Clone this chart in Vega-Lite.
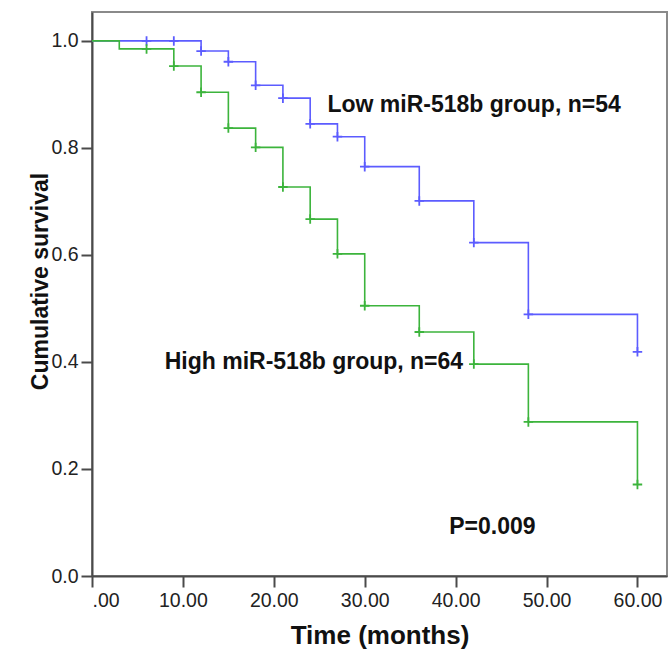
{
  "$schema": "https://vega.github.io/schema/vega-lite/v6.json",
  "autosize": "none",
  "padding": {"left": 92, "top": 12, "right": 2, "bottom": 74},
  "width": 575,
  "height": 564,
  "background": "white",
  "config": {
    "view": {"stroke": "#8a8a8a", "strokeWidth": 2},
    "font": "Liberation Sans",
    "axis": {
      "grid": false,
      "domainColor": "#4a4a4a",
      "domainWidth": 2,
      "tickColor": "#4a4a4a",
      "tickWidth": 2,
      "tickSize": 11,
      "labelFont": "Liberation Sans",
      "labelFontSize": 19.5,
      "labelColor": "#222222",
      "titleFont": "Liberation Sans",
      "titleFontSize": 23,
      "titleFontWeight": "bold",
      "titleColor": "#111111"
    }
  },
  "datasets": {
    "steps": [
      {"group": "Low", "t": 0, "s": 1.0},
      {"group": "Low", "t": 12, "s": 0.981},
      {"group": "Low", "t": 15, "s": 0.961},
      {"group": "Low", "t": 18, "s": 0.917},
      {"group": "Low", "t": 21, "s": 0.893},
      {"group": "Low", "t": 24, "s": 0.845},
      {"group": "Low", "t": 27, "s": 0.821},
      {"group": "Low", "t": 30, "s": 0.765},
      {"group": "Low", "t": 36, "s": 0.701},
      {"group": "Low", "t": 42, "s": 0.623},
      {"group": "Low", "t": 48, "s": 0.489},
      {"group": "Low", "t": 60, "s": 0.419},
      {"group": "High", "t": 0, "s": 1.0},
      {"group": "High", "t": 3, "s": 0.985},
      {"group": "High", "t": 9, "s": 0.953},
      {"group": "High", "t": 12, "s": 0.904},
      {"group": "High", "t": 15, "s": 0.837},
      {"group": "High", "t": 18, "s": 0.801},
      {"group": "High", "t": 21, "s": 0.727},
      {"group": "High", "t": 24, "s": 0.667},
      {"group": "High", "t": 27, "s": 0.602},
      {"group": "High", "t": 30, "s": 0.505},
      {"group": "High", "t": 36, "s": 0.456},
      {"group": "High", "t": 42, "s": 0.396},
      {"group": "High", "t": 48, "s": 0.288},
      {"group": "High", "t": 60, "s": 0.171}
    ],
    "censors": [
      {"group": "Low", "t": 6, "s": 1.0},
      {"group": "Low", "t": 9, "s": 1.0},
      {"group": "Low", "t": 12, "s": 0.981},
      {"group": "Low", "t": 15, "s": 0.961},
      {"group": "Low", "t": 18, "s": 0.917},
      {"group": "Low", "t": 21, "s": 0.893},
      {"group": "Low", "t": 24, "s": 0.845},
      {"group": "Low", "t": 27, "s": 0.821},
      {"group": "Low", "t": 30, "s": 0.765},
      {"group": "Low", "t": 36, "s": 0.701},
      {"group": "Low", "t": 42, "s": 0.623},
      {"group": "Low", "t": 48, "s": 0.489},
      {"group": "Low", "t": 60, "s": 0.419},
      {"group": "High", "t": 6, "s": 0.985},
      {"group": "High", "t": 9, "s": 0.953},
      {"group": "High", "t": 12, "s": 0.904},
      {"group": "High", "t": 15, "s": 0.837},
      {"group": "High", "t": 18, "s": 0.801},
      {"group": "High", "t": 21, "s": 0.727},
      {"group": "High", "t": 24, "s": 0.667},
      {"group": "High", "t": 27, "s": 0.602},
      {"group": "High", "t": 30, "s": 0.505},
      {"group": "High", "t": 36, "s": 0.456},
      {"group": "High", "t": 42, "s": 0.396},
      {"group": "High", "t": 48, "s": 0.288},
      {"group": "High", "t": 60, "s": 0.171}
    ],
    "labels": [
      {"t": 25.9, "s": 0.867, "label": "Low miR-518b group, n=54"},
      {"t": 8.0, "s": 0.387, "label": "High miR-518b group, n=64"},
      {"t": 39.3, "s": 0.079, "label": "P=0.009"}
    ]
  },
  "layer": [
    {
      "data": {"name": "steps"},
      "mark": {"type": "line", "interpolate": "step-after", "strokeWidth": 1.6},
      "encoding": {
        "x": {
          "field": "t", "type": "quantitative",
          "scale": {"domain": [0, 63.25], "nice": false, "zero": false},
          "axis": {
            "title": "Time (months)",
            "values": [0, 10, 20, 30, 40, 50, 60],
            "labelExpr": "datum.value == 0 ? '.00' : format(datum.value, '.2f')",
            "labelPadding": 4,
            "titleFontSize": 26,
            "titleY": 67,
            "titleBaseline": "alphabetic"
          }
        },
        "y": {
          "field": "s", "type": "quantitative",
          "scale": {"domain": [0, 1.054], "nice": false},
          "axis": {
            "title": "Cumulative survival",
            "values": [0, 0.2, 0.4, 0.6, 0.8, 1.0],
            "format": ".1f",
            "labelPadding": 3,
            "titleX": -45,
            "titleY": 269,
            "titleAngle": 270,
            "titleAlign": "center",
            "titleBaseline": "alphabetic"
          }
        },
        "color": {
          "field": "group", "type": "nominal",
          "scale": {"domain": ["Low", "High"], "range": ["#5c5cff", "#3cb43c"]},
          "legend": null
        },
        "order": {"field": "t", "type": "quantitative"}
      }
    },
    {
      "data": {"name": "censors"},
      "mark": {"type": "point", "shape": "M-1,0H1M0,-1V1", "size": 90, "filled": false, "strokeWidth": 1.8, "opacity": 1},
      "encoding": {
        "x": {"field": "t", "type": "quantitative"},
        "y": {"field": "s", "type": "quantitative"},
        "color": {"field": "group", "type": "nominal", "legend": null}
      }
    },
    {
      "data": {"name": "labels"},
      "mark": {"type": "text", "align": "left", "baseline": "alphabetic", "font": "Liberation Sans", "fontWeight": "bold", "fontSize": 23, "color": "#111111"},
      "encoding": {
        "x": {"field": "t", "type": "quantitative"},
        "y": {"field": "s", "type": "quantitative"},
        "text": {"field": "label", "type": "nominal"}
      }
    }
  ]
}
